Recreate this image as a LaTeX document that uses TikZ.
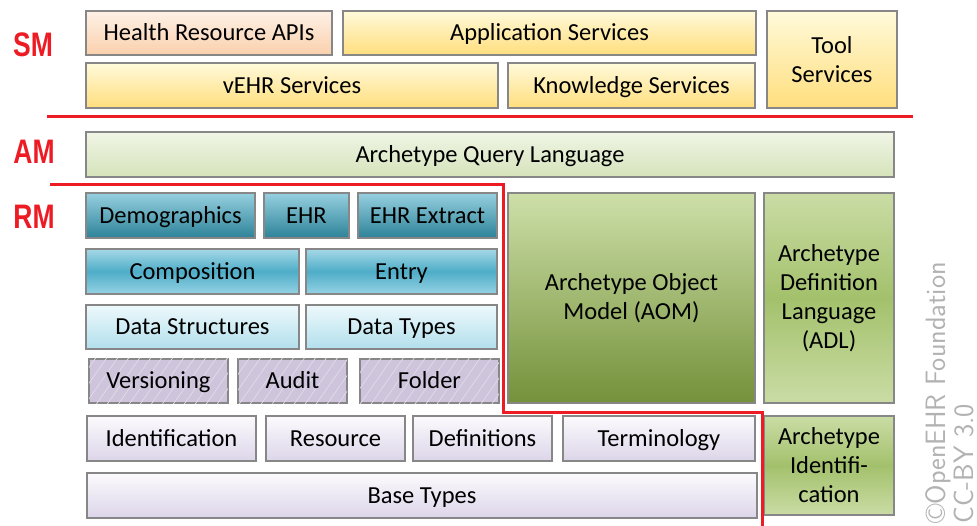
\documentclass[tikz,border=0pt]{standalone}
\usepackage{fontspec}
\setmainfont{Carlito}
\newfontfamily\lblfont{Liberation Sans}
\usetikzlibrary{patterns.meta,calc}
\definecolor{redl}{RGB}{237,28,36}
\definecolor{boxgray}{RGB}{135,135,135}
\definecolor{peachT}{RGB}{254,241,230}
\definecolor{peachB}{RGB}{250,208,172}
\definecolor{yelT}{RGB}{255,250,218}
\definecolor{yelB}{RGB}{255,222,125}
\definecolor{aqlT}{RGB}{240,245,230}
\definecolor{aqlB}{RGB}{213,227,186}
\definecolor{tealT}{RGB}{150,208,224}
\definecolor{tealB}{RGB}{45,130,152}
\definecolor{compT}{RGB}{165,216,231}
\definecolor{compM}{RGB}{78,173,199}
\definecolor{compB}{RGB}{150,210,228}
\definecolor{dsT}{RGB}{238,249,252}
\definecolor{dsB}{RGB}{178,223,236}
\definecolor{lav}{RGB}{206,196,220}
\definecolor{lavL}{RGB}{226,220,234}
\definecolor{idT}{RGB}{252,250,253}
\definecolor{idB}{RGB}{220,213,233}
\definecolor{aomT}{RGB}{205,223,168}
\definecolor{aomB}{RGB}{116,145,58}
\definecolor{adlE}{RGB}{202,220,165}
\definecolor{adlM}{RGB}{163,193,108}
\definecolor{copyg}{RGB}{178,178,178}
\tikzset{
  bx/.style={draw=boxgray, line width=1.1pt, inner sep=0pt, outer sep=0pt,
    align=center, font=\fontsize{24.5}{29}\selectfont},
  one/.style={text height=15.8pt, text depth=0pt},
  peach/.style={bx, top color=peachT, bottom color=peachB},
  yel/.style={bx, top color=yelT, bottom color=yelB},
  aql/.style={bx, top color=aqlT, bottom color=aqlB},
  teal/.style={bx, top color=tealT, bottom color=tealB},
  comp/.style={bx, top color=compT, bottom color=compB, middle color=compM},
  ds/.style={bx, top color=dsT, bottom color=dsB},
  hatch/.style={bx, fill=lav, postaction={pattern={Lines[angle=55,distance=9pt,line width=0.7pt]}, pattern color=lavL}},
  idb/.style={bx, top color=idT, bottom color=idB},
  aom/.style={bx, top color=aomT, bottom color=aomB},
  adl/.style={bx, top color=adlE, bottom color=adlE, middle color=adlM},
  layer/.style={text=redl, font=\lblfont\bfseries\fontsize{34}{34}\selectfont},
  sep/.style={draw=redl, line width=3pt},
  copytxt/.style={text=copyg, font=\sffamily\fontsize{28}{32}\selectfont, inner sep=0pt, rotate=90}
}
\newcommand\bx[7]{\node[#6, minimum width={(#4-#2)*1pt}, minimum height={(#5-#3)*1pt}] (#1) at ({(#2+#4)/2},{(#3+#5)/2}) {#7};}
\begin{document}
\begin{tikzpicture}[x=1pt,y=-1pt]
\useasboundingbox (0,0) rectangle (977,526);
% SM
\bx{hra}{86}{11}{332}{55}{peach,one}{Health Resource APIs}
\bx{app}{343}{11}{756}{55}{yel,one}{Application Services}
\bx{vehr}{86}{63}{498}{108}{yel,one}{vEHR Services}
\bx{know}{508}{63}{755}{108}{yel,one}{Knowledge Services}
\bx{tool}{767}{11}{897}{108}{yel}{Tool\\Services}
% AM
\bx{aqlb}{86}{132}{894}{177}{aql,one}{Archetype Query Language}
% RM
\bx{demo}{86}{193}{255}{238}{teal,one}{Demographics}
\bx{ehr}{264}{193}{349}{238}{teal,one}{EHR}
\bx{ehrx}{358}{193}{497}{238}{teal,one}{EHR Extract}
\bx{compo}{86}{249}{299}{294}{comp,one}{Composition}
\bx{entry}{306}{249}{497}{294}{comp,one}{Entry}
\bx{dstr}{86}{305}{299}{349}{ds,one}{Data Structures}
\bx{dtyp}{306}{305}{497}{349}{ds,one}{Data Types}
\bx{vers}{89}{359}{228}{403}{hatch,one}{Versioning}
\bx{audit}{238}{359}{347}{403}{hatch,one}{Audit}
\bx{folder}{360}{359}{499}{403}{hatch,one}{Folder}
\bx{ident}{87}{416}{256}{461}{idb,one}{Identification}
\bx{res}{266}{416}{405}{461}{idb,one}{Resource}
\bx{defs}{413}{416}{552}{461}{idb,one}{Definitions}
\bx{term}{563}{416}{755}{461}{idb,one}{Terminology}
\bx{base}{87}{473}{757}{518}{idb,one}{Base Types}
\bx{aomb}{508}{193}{755}{403}{aom}{Archetype Object\\Model (AOM)}
\bx{adlb}{764}{193}{894}{403}{adl}{Archetype\\Definition\\Language\\(ADL)}
\bx{aid}{764}{416}{894}{515}{adl}{Archetype\\Identifi-\\cation}
% layer labels
\node[layer] (sm) at (33,45) {\scalebox{0.78}[1]{SM}};
\node[layer] (am) at (34,152) {\scalebox{0.78}[1]{AM}};
\node[layer] (rm) at (34,217) {\scalebox{0.78}[1]{RM}};
% separators
\draw[sep] (47,117) -- (913,117);
\draw[sep] (50,185) -- (503,185) -- (503,412) -- (762,412) -- (762,530);
% copyright
\node[copytxt, anchor=base east] (c1) at (945,262) {\textcopyright OpenEHR Foundation};
\node[copytxt, anchor=base west] (c2) at ($(c1.base west)+(28,0)$) {CC-BY 3.0};
\end{tikzpicture}
\end{document}
